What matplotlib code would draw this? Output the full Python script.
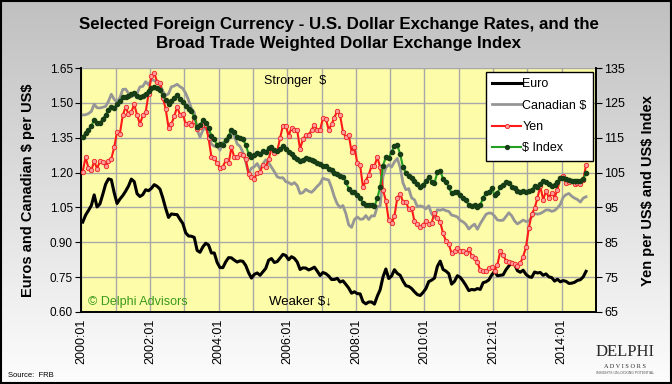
import numpy as np
import matplotlib
matplotlib.use("Agg")
from matplotlib import pyplot as plt
from matplotlib.lines import Line2D
from matplotlib.patches import Rectangle

plt.rcParams['font.family'] = ['Liberation Sans', 'DejaVu Sans']

# monthly values, 2000:01 .. 2014:09 (one row per year)
euro = [
    0.987, 1.017, 1.037, 1.058, 1.104, 1.052, 1.065, 1.106, 1.150, 1.173, 1.169, 1.113,
    1.067, 1.086, 1.101, 1.120, 1.142, 1.172, 1.161, 1.109, 1.097, 1.105, 1.126, 1.122,
    1.132, 1.148, 1.141, 1.129, 1.091, 1.046, 1.007, 1.022, 1.020, 1.019, 0.999, 0.981,
    0.941, 0.927, 0.926, 0.921, 0.865, 0.857, 0.880, 0.896, 0.888, 0.854, 0.854, 0.813,
    0.791, 0.791, 0.816, 0.834, 0.833, 0.823, 0.815, 0.820, 0.818, 0.800, 0.769, 0.746,
    0.762, 0.768, 0.758, 0.773, 0.788, 0.823, 0.830, 0.813, 0.817, 0.832, 0.848, 0.843,
    0.825, 0.838, 0.831, 0.815, 0.783, 0.790, 0.789, 0.781, 0.786, 0.793, 0.776, 0.757,
    0.770, 0.765, 0.755, 0.740, 0.740, 0.745, 0.729, 0.734, 0.719, 0.703, 0.681, 0.687,
    0.679, 0.678, 0.644, 0.635, 0.643, 0.643, 0.634, 0.668, 0.696, 0.751, 0.785, 0.744,
    0.755, 0.782, 0.766, 0.758, 0.733, 0.713, 0.710, 0.701, 0.687, 0.675, 0.671, 0.684,
    0.701, 0.731, 0.737, 0.746, 0.796, 0.819, 0.783, 0.776, 0.765, 0.720, 0.732, 0.756,
    0.749, 0.733, 0.714, 0.692, 0.697, 0.695, 0.701, 0.697, 0.726, 0.730, 0.738, 0.759,
    0.775, 0.756, 0.758, 0.760, 0.782, 0.798, 0.814, 0.806, 0.778, 0.771, 0.780, 0.762,
    0.752, 0.749, 0.772, 0.768, 0.770, 0.758, 0.764, 0.751, 0.748, 0.733, 0.741, 0.730,
    0.735, 0.732, 0.723, 0.724, 0.728, 0.736, 0.739, 0.751, 0.775,
]

cad = [
    1.448, 1.449, 1.454, 1.463, 1.494, 1.479, 1.478, 1.481, 1.485, 1.507, 1.537, 1.515,
    1.503, 1.522, 1.558, 1.559, 1.541, 1.526, 1.533, 1.541, 1.569, 1.571, 1.591, 1.578,
    1.600, 1.596, 1.588, 1.582, 1.550, 1.532, 1.539, 1.569, 1.573, 1.580, 1.570, 1.562,
    1.541, 1.512, 1.476, 1.458, 1.384, 1.353, 1.382, 1.396, 1.363, 1.322, 1.313, 1.313,
    1.296, 1.330, 1.329, 1.342, 1.379, 1.358, 1.323, 1.313, 1.288, 1.247, 1.197, 1.219,
    1.225, 1.239, 1.216, 1.237, 1.255, 1.243, 1.223, 1.204, 1.182, 1.177, 1.178, 1.161,
    1.157, 1.149, 1.157, 1.144, 1.110, 1.114, 1.128, 1.120, 1.115, 1.127, 1.141, 1.153,
    1.176, 1.171, 1.168, 1.135, 1.095, 1.065, 1.050, 1.058, 1.024, 0.975, 0.964, 0.998,
    1.009, 0.999, 1.000, 1.015, 0.998, 1.014, 1.013, 1.053, 1.057, 1.184, 1.220, 1.234,
    1.224, 1.246, 1.261, 1.222, 1.155, 1.126, 1.131, 1.091, 1.083, 1.053, 1.057, 1.053,
    1.044, 1.057, 1.022, 1.007, 1.040, 1.038, 1.042, 1.036, 1.033, 1.017, 1.014, 1.009,
    0.994, 0.988, 0.977, 0.957, 0.969, 0.978, 0.956, 0.980, 1.000, 1.020, 1.026, 1.025,
    1.013, 0.996, 0.994, 0.995, 1.011, 1.027, 1.014, 0.992, 0.979, 0.987, 0.996, 0.989,
    0.992, 1.009, 1.024, 1.021, 1.024, 1.031, 1.039, 1.039, 1.033, 1.037, 1.048, 1.063,
    1.094, 1.105, 1.110, 1.098, 1.090, 1.084, 1.073, 1.090, 1.096,
]

yen = [
    105.3, 109.4, 106.3, 105.6, 108.3, 106.1, 108.2, 108.1, 106.8, 108.4, 109.0, 112.2,
    116.7, 116.2, 121.5, 123.8, 121.8, 122.4, 124.6, 121.5, 118.9, 121.4, 122.3, 127.6,
    132.7, 133.6, 131.1, 130.8, 126.4, 123.3, 117.9, 119.0, 121.1, 123.9, 121.6, 121.9,
    118.8, 119.3, 118.6, 119.9, 117.4, 118.0, 118.7, 118.7, 114.8, 109.5, 109.1, 107.7,
    106.3, 106.7, 108.5, 107.7, 112.2, 109.4, 109.5, 110.2, 110.1, 108.8, 104.7, 103.8,
    103.3, 104.9, 105.3, 107.2, 106.6, 108.8, 112.0, 110.7, 111.2, 114.9, 118.5, 118.5,
    115.5, 117.9, 117.3, 117.1, 111.7, 114.6, 115.7, 115.9, 117.2, 118.7, 117.3, 117.3,
    120.6, 120.5, 117.3, 118.8, 120.8, 122.7, 121.4, 116.7, 115.1, 115.9, 111.0, 112.3,
    107.8, 107.1, 100.8, 102.7, 104.4, 106.9, 106.9, 109.4, 106.6, 100.0, 96.9, 91.3,
    90.4, 92.5, 97.8, 98.9, 96.6, 96.6, 94.5, 94.9, 91.0, 90.3, 89.3, 90.0,
    91.1, 90.3, 90.6, 93.5, 92.0, 90.8, 87.6, 85.4, 84.4, 81.8, 82.6, 83.3,
    82.6, 82.6, 81.8, 83.2, 81.1, 80.4, 79.3, 77.0, 76.8, 76.7, 77.5, 77.8,
    76.9, 78.5, 82.4, 81.4, 79.7, 79.3, 79.0, 78.7, 78.2, 79.0, 80.9, 83.6,
    89.2, 93.1, 94.7, 97.7, 101.1, 97.2, 99.7, 97.8, 99.2, 97.8, 100.1, 103.5,
    103.9, 102.1, 102.3, 102.5, 101.8, 102.1, 101.8, 102.9, 107.1,
]

usd_index = [
    115.3, 116.4, 117.2, 118.4, 120.1, 119.3, 119.2, 120.4, 121.5, 123.0, 123.9, 123.4,
    124.8, 125.6, 126.6, 126.8, 126.9, 127.6, 127.7, 127.0, 126.8, 127.1, 127.6, 128.4,
    129.2, 129.6, 129.3, 128.7, 127.2, 125.8, 124.8, 125.6, 126.4, 127.2, 126.1, 125.3,
    124.0, 123.3, 122.6, 121.0, 118.2, 118.6, 120.1, 119.3, 117.8, 115.5, 114.5, 112.9,
    113.3, 113.0, 114.4, 115.6, 117.2, 116.6, 115.3, 115.0, 114.5, 113.0, 110.3, 109.6,
    110.0, 110.5, 110.3, 111.1, 110.9, 112.0, 112.2, 111.5, 111.2, 111.9, 112.5, 111.8,
    111.0, 110.3, 109.6, 109.0, 108.3, 108.6, 109.1, 108.8, 108.6, 108.3, 107.8, 107.5,
    107.0, 106.8, 106.1, 105.6, 104.9, 104.5, 104.0, 103.8, 102.3, 100.4, 99.3, 99.3,
    98.6, 97.8, 96.2, 95.8, 95.7, 95.6, 95.3, 97.6, 100.9, 107.0, 109.5, 109.2,
    111.0, 112.6, 112.8, 110.3, 106.5, 105.0, 104.1, 103.5, 102.7, 101.8, 101.0, 101.5,
    102.7, 103.6, 102.4, 102.0, 105.1, 105.5, 103.2, 102.4, 100.8, 99.0, 99.4, 99.5,
    98.7, 97.8, 97.0, 95.7, 95.4, 95.8, 95.2, 95.6, 97.8, 99.1, 99.4, 100.5,
    98.6, 99.2, 100.8, 101.5, 102.2, 102.0, 101.0, 100.6, 99.8, 99.3, 99.6, 99.4,
    99.6, 100.0, 101.2, 101.0, 101.8, 102.5, 102.4, 101.6, 101.2, 101.5, 102.3, 103.4,
    103.5, 103.1, 102.8, 102.6, 102.7, 102.6, 102.6, 103.2, 104.8,
]

year_labels = ['2000:01', '2002:01', '2004:01', '2006:01', '2008:01',
               '2010:01', '2012:01', '2014:01']
left_ticks = [0.60, 0.75, 0.90, 1.05, 1.20, 1.35, 1.50, 1.65]
right_ticks = [65, 75, 85, 95, 105, 115, 125, 135]
series_names = ['Euro', 'Canadian \\$', 'Yen', '\\$ Index']

x = np.arange(len(euro)) + 0.5   # categories sit between gridlines

fig = plt.figure(figsize=(6.72, 3.84), dpi=100)

# grey-to-white background
bg = fig.add_axes([0, 0, 1, 1], zorder=-10)
grad = np.linspace(0, 1, 256).reshape(-1, 1)
top_c = np.array([192, 192, 192]) / 255
bot_c = np.array([253, 253, 253]) / 255
img = top_c[None, None, :] * (1 - grad[:, :, None]) + bot_c[None, None, :] * grad[:, :, None]
bg.imshow(img, aspect='auto', extent=[0, 1, 0, 1])
bg.set_axis_off()
fig.patches.append(Rectangle((0.001, 0.002), 0.997, 0.995, transform=fig.transFigure,
                             fill=False, edgecolor='black', lw=1.5))

ax = fig.add_axes([0.121, 0.1875, 0.766, 0.6354])
ax.set_facecolor('#fdfca8')
ax2 = ax.twinx()

ax.plot(x, euro, color='black', lw=2.2, zorder=3)
ax.plot(x, cad, color='#969696', lw=2, zorder=3)
ax2.plot(x, yen, color='#ff1a1a', lw=1.5, marker='o', ms=3.2, mfc='#ff9c9c',
         mec='#ee2020', mew=0.6, zorder=3)
ax2.plot(x, usd_index, color='#22a022', lw=1.5, marker='o', ms=3, mfc='#173d17',
         mec='#173d17', zorder=4)

ax.set_xlim(0, 180)
ax.set_ylim(0.60, 1.65)
ax2.set_ylim(65, 135)
ax.set_yticks(left_ticks)
ax.set_yticklabels(['%.2f' % v for v in left_ticks])
ax2.set_yticks(right_ticks)

ax.set_xticks(np.arange(0, 181, 12))
ax.set_xticklabels([year_labels[i // 2] if i % 2 == 0 and i // 2 < len(year_labels) else ''
                    for i in range(16)], rotation=90)
ax.grid(True, color='#a8a8a8', lw=1)
ax.set_axisbelow(True)

ax.tick_params(axis='x', length=0, labelsize=9, pad=5)
ax.tick_params(axis='y', length=4, labelsize=8.5, pad=2)
ax2.tick_params(axis='y', length=4, labelsize=9, pad=2)

for a in (ax, ax2):
    a.spines['top'].set_visible(False)
    a.spines['left'].set_linewidth(1.2)
    a.spines['bottom'].set_linewidth(1.2)
    a.spines['right'].set_linewidth(1.2)

fig.text(0.042, 0.505, 'Euros and Canadian \\$ per US\\$', rotation=90,
         ha='center', va='center', fontsize=10.5, fontweight='bold')
fig.text(0.964, 0.503, 'Yen per US\\$ and US\\$ Index', rotation=90,
         ha='center', va='center', fontsize=10.5, fontweight='bold')

title_font = ['Liberation Sans Narrow', 'Liberation Sans', 'DejaVu Sans']
fig.text(0.504, 0.935, 'Selected Foreign Currency - U.S. Dollar Exchange Rates, and the',
         ha='center', va='center', fontsize=12.2, fontweight='bold', family=title_font)
fig.text(0.504, 0.888, 'Broad Trade Weighted Dollar Exchange Index',
         ha='center', va='center', fontsize=12.2, fontweight='bold', family=title_font)

ax.text(0.415, 0.945, 'Stronger  \\$', transform=ax.transAxes, ha='center', va='center',
        fontsize=9)
ax.text(0.425, 0.04, 'Weaker \\$\u2193', transform=ax.transAxes, ha='center', va='center',
        fontsize=9.5)
ax.text(0.013, 0.04, '\u00a9 Delphi Advisors', transform=ax.transAxes, ha='left',
        va='center', fontsize=9, color='#3a9a1a')

handles = [
    Line2D([], [], color='black', lw=2.2),
    Line2D([], [], color='#969696', lw=2),
    Line2D([], [], color='#ff1a1a', lw=1.5, marker='o', ms=3, mfc='#ff9c9c', mec='#ee2020',
           mew=0.6),
    Line2D([], [], color='#22a022', lw=1.5, marker='o', ms=2.8, mfc='#173d17', mec='#173d17'),
]
leg = ax2.legend(handles, series_names, loc='upper right',
                 bbox_to_anchor=(0.994, 0.984), borderaxespad=0, fontsize=9,
                 frameon=True, fancybox=False, framealpha=1, edgecolor='black',
                 handlelength=2.3, handletextpad=0.1, labelspacing=0.75, borderpad=0.5,
                 markerscale=1, numpoints=1)
leg.get_frame().set_linewidth(1)
leg.set_zorder(10)

fig.text(0.012, 0.023, 'Source:  FRB', fontsize=5.5, ha='left', va='center')

# logo as text
fig.text(0.93, 0.083, 'DELPHI', family=['Liberation Serif', 'DejaVu Serif'], fontsize=12,
         ha='center', va='center', color='#2a2a2a')
fig.text(0.93, 0.045, 'A D V I S O R S', family=['Liberation Serif', 'DejaVu Serif'],
         fontsize=4.5, ha='center', va='center', color='#2a2a2a')
fig.text(0.93, 0.028, 'INSIGHTS UNLOCKING POTENTIAL', fontsize=2.5, ha='center',
         va='center', color='#555555')

fig.savefig('out.png', dpi=100)
